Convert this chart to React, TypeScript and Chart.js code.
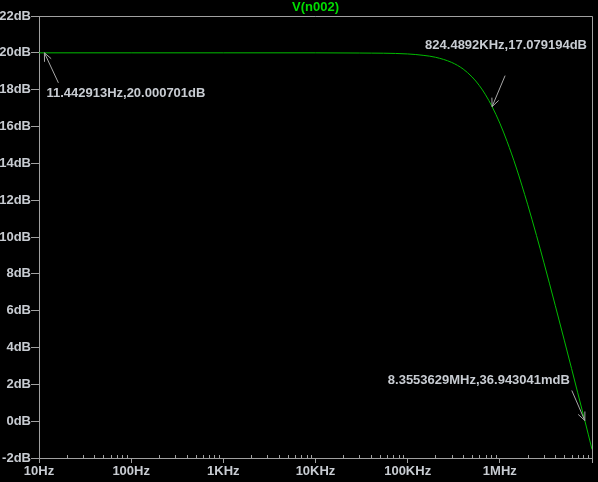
import React, { useEffect, useRef } from 'react';
import { Chart, registerables } from 'chart.js';

Chart.register(...registerables);

// Frequency response samples V(n002)
const freqHz = [10, 100, 1000, 10000, 30000, 100000, 150000, 200000, 300000, 400000, 500000, 600000, 700000, 824489.2, 1000000, 1200000, 1500000, 2000000, 2500000, 3000000, 4000000, 5000000, 6000000, 7000000, 8355362.9, 10000000];
const gainDb = [20.0, 20.0, 20.0, 20.0, 19.99, 19.94, 19.86, 19.76, 19.48, 19.12, 18.69, 18.22, 17.72, 17.079, 16.18, 15.18, 13.8, 11.78, 10.08, 8.63, 6.27, 4.4, 2.86, 1.54, 0.037, -1.53];

const xMajorTicks = [10, 100, 1000, 10000, 100000, 1000000, 10000000];
const xTickLabels = ['10Hz', '100Hz', '1KHz', '10KHz', '100KHz', '1MHz', ''];
const yTicks = [-2, 0, 2, 4, 6, 8, 10, 12, 14, 16, 18, 20, 22];
const yTickLabels = ['-2dB', '0dB', '2dB', '4dB', '6dB', '8dB', '10dB', '12dB', '14dB', '16dB', '18dB', '20dB', '22dB'];

const titleText = 'V(n002)';
const markerFreq = [11.442913, 824489.2, 8355362.9];
const markerDb = [20.000701, 17.079194, 0.036943041];
const markerText = ['11.442913Hz,20.000701dB', '824.4892KHz,17.079194dB', '8.3553629MHz,36.943041mdB'];

const FAMILY = '"Liberation Sans", Arial, sans-serif';
const FONT = 'bold 13px ' + FAMILY;
const TEXT_COLOR = '#c8ccd2';
const AXIS_COLOR = '#a0a0a0';
const LINE_COLOR = '#00bc00';
const TITLE_COLOR = '#00dc00';

// label offsets relative to marker pixel: [textLeft, textCenterY, tailDx, tailDy]
const markerStyle = [
  [2, 41, 14, 30],
  [-67, -61, 13, -31],
  [-197, -40.5, -13, -30],
];

const decorPlugin = {
  id: 'decor',
  afterDraw(chart: any) {
    const ctx = chart.ctx;
    const { left, right, top, bottom } = chart.chartArea;
    const xs = chart.scales.x;
    const ys = chart.scales.y;
    ctx.save();
    ctx.strokeStyle = AXIS_COLOR;
    ctx.lineWidth = 1;
    ctx.beginPath();
    ctx.moveTo(left, Math.round(top) + 0.5);
    ctx.lineTo(Math.round(right) + 0.5, Math.round(top) + 0.5);
    ctx.lineTo(Math.round(right) + 0.5, bottom);
    ctx.stroke();
    ctx.beginPath();
    for (let d = 10; d < 1e7; d *= 10) {
      for (let m = 2; m <= 9; m++) {
        const x = Math.round(xs.getPixelForValue(m * d)) + 0.5;
        ctx.moveTo(x, bottom);
        ctx.lineTo(x, bottom - 3);
      }
    }
    ctx.stroke();
    ctx.fillStyle = TITLE_COLOR;
    ctx.font = FONT;
    ctx.textAlign = 'center';
    ctx.textBaseline = 'middle';
    ctx.fillText(titleText, (left + right) / 2, 7);
    ctx.font = FONT;
    ctx.textAlign = 'left';
    ctx.textBaseline = 'middle';
    for (let i = 0; i < markerFreq.length; i++) {
      const px = xs.getPixelForValue(markerFreq[i]);
      const py = ys.getPixelForValue(markerDb[i]);
      const [tl, tc, tdx, tdy] = markerStyle[i];
      ctx.fillStyle = TEXT_COLOR;
      ctx.fillText(markerText[i], px + tl, py + tc);
      const tx = px + tdx;
      const ty = py + tdy;
      const ang = Math.atan2(ty - py, tx - px);
      const len = 9;
      const spread = 0.42;
      ctx.strokeStyle = '#a8a8a8';
      ctx.beginPath();
      ctx.moveTo(tx, ty);
      ctx.lineTo(px, py);
      ctx.moveTo(px + len * Math.cos(ang - spread), py + len * Math.sin(ang - spread));
      ctx.lineTo(px, py);
      ctx.lineTo(px + len * Math.cos(ang + spread), py + len * Math.sin(ang + spread));
      ctx.stroke();
    }
    ctx.restore();
  },
};

const bgPlugin = {
  id: 'bg',
  beforeDraw(chart: any) {
    const ctx = chart.ctx;
    ctx.save();
    ctx.fillStyle = '#000000';
    ctx.fillRect(0, 0, chart.width, chart.height);
    ctx.restore();
  },
};

export default function App() {
  const ref = useRef<HTMLCanvasElement | null>(null);
  useEffect(() => {
    document.body.style.margin = '0';
    document.body.style.background = '#000';
    if (!ref.current) return;
    const tickFont = { family: FAMILY, size: 13, weight: 'bold' };
    const chart = new Chart(ref.current, {
      type: 'scatter',
      data: {
        datasets: [
          {
            data: freqHz.map((f, i) => ({ x: f, y: gainDb[i] })),
            showLine: true,
            borderColor: LINE_COLOR,
            borderWidth: 1,
            pointRadius: 0,
            cubicInterpolationMode: 'monotone',
          } as any,
        ],
      },
      options: {
        animation: false,
        responsive: false,
        layout: { padding: { top: 16, right: 6, left: 0, bottom: 0 } },
        plugins: { legend: { display: false }, tooltip: { enabled: false }, title: { display: false } },
        scales: {
          x: {
            type: 'logarithmic',
            min: 10,
            max: 1e7,
            afterBuildTicks: (s: any) => {
              s.ticks = xMajorTicks.map((v) => ({ value: v }));
            },
            afterFit: (s: any) => {
              s.height = 24;
            },
            ticks: {
              callback: (_v: any, i: number) => xTickLabels[i],
              color: TEXT_COLOR,
              font: tickFont,
              maxRotation: 0,
              autoSkip: false,
              padding: 1,
            },
            grid: { drawOnChartArea: false, tickLength: 5, color: AXIS_COLOR },
            border: { color: AXIS_COLOR, width: 1 },
          },
          y: {
            type: 'linear',
            min: -2,
            max: 22,
            afterBuildTicks: (s: any) => {
              s.ticks = yTicks.map((v) => ({ value: v }));
            },
            afterFit: (s: any) => {
              s.width = 39;
            },
            ticks: {
              callback: (_v: any, i: number) => yTickLabels[i],
              color: TEXT_COLOR,
              font: tickFont,
              padding: 0,
            },
            grid: { drawOnChartArea: false, tickLength: 8, color: AXIS_COLOR },
            border: { color: AXIS_COLOR, width: 1 },
          },
        },
      } as any,
      plugins: [bgPlugin, decorPlugin],
    });
    return () => chart.destroy();
  }, []);
  return (
    <div style={{ width: 598, height: 482, background: '#000' }}>
      <canvas ref={ref} width={598} height={482} style={{ display: 'block' }} />
    </div>
  );
}
